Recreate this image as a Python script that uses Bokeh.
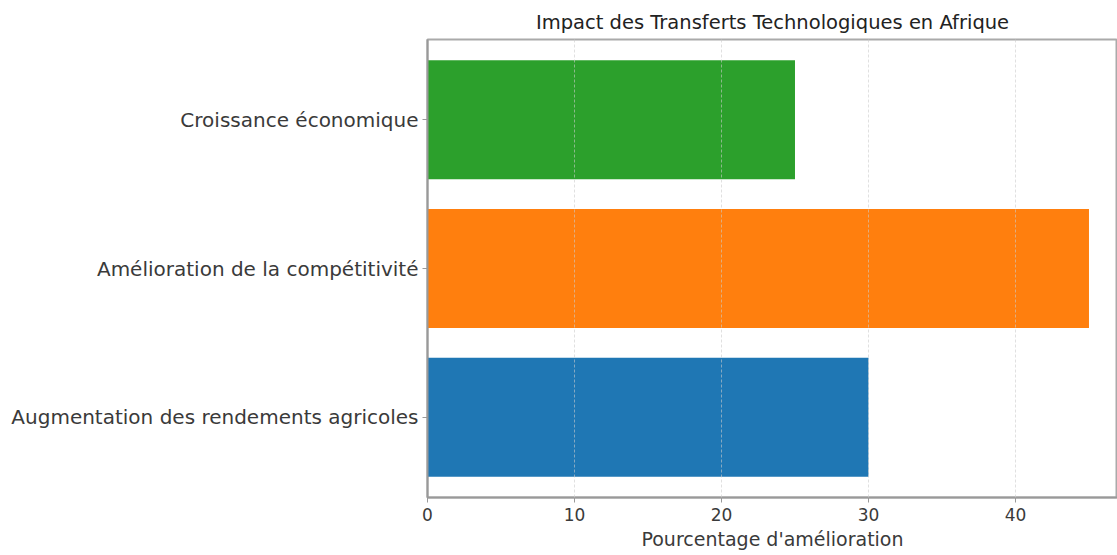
from bokeh.plotting import figure
from bokeh.models import Range1d, FixedTicker
from bokeh.embed import file_html
from bokeh.resources import INLINE

categories = ["Augmentation des rendements agricoles",
              "Amélioration de la compétitivité",
              "Croissance économique"]
values = [30, 45, 25]
colors = ["#1f77b4", "#ff7f0e", "#2ca02c"]
x_ticks = [0, 10, 20, 30, 40]

FONT = "DejaVu Sans"
TXT = "#3a3a3a"

positions = list(range(len(categories)))

p = figure(width=1117, height=555, output_backend="svg", toolbar_location=None,
           x_range=Range1d(0, 46.94), y_range=Range1d(-0.54, 2.54),
           min_border_left=427, min_border_right=0, min_border_top=39, min_border_bottom=58,
           title="Impact des Transferts Technologiques en Afrique")

p.hbar(y=positions, right=values, left=0, height=0.8, color=colors, line_color=None)

p.title.align = "center"
p.title.text_font = FONT
p.title.text_font_size = "19.5px"
p.title.text_font_style = "normal"
p.title.text_color = "#222222"
p.title.standoff = 12

p.outline_line_color = "#aaaaaa"
p.outline_line_width = 2

p.xgrid.ticker = FixedTicker(ticks=x_ticks)
p.xgrid.grid_line_color = "#cccccc"
p.xgrid.grid_line_alpha = 0.6
p.xgrid.grid_line_dash = "3 2"
p.xgrid.level = "overlay"
p.ygrid.visible = False

p.xaxis.ticker = FixedTicker(ticks=x_ticks)
p.yaxis.ticker = FixedTicker(ticks=positions)
p.yaxis.major_label_overrides = {i: c for i, c in zip(positions, categories)}

for ax in (p.xaxis[0], p.yaxis[0]):
    ax.axis_line_color = "#999999"
    ax.axis_line_width = 2
    ax.major_tick_line_color = "#999999"
    ax.major_tick_in = 0
    ax.major_tick_out = 5
    ax.minor_tick_line_color = None
    ax.major_label_text_font = FONT
    ax.major_label_text_color = TXT

p.yaxis.major_label_text_font_size = "20px"
p.yaxis.major_label_standoff = 4
p.xaxis.major_label_text_font_size = "17px"
p.xaxis.major_label_standoff = 5
p.xaxis.axis_label = "Pourcentage d'amélioration"
p.xaxis.axis_label_text_font = FONT
p.xaxis.axis_label_text_font_size = "19px"
p.xaxis.axis_label_text_font_style = "normal"
p.xaxis.axis_label_text_color = TXT
p.xaxis.axis_label_standoff = 4

open("out.html", "w").write(file_html(p, INLINE))
